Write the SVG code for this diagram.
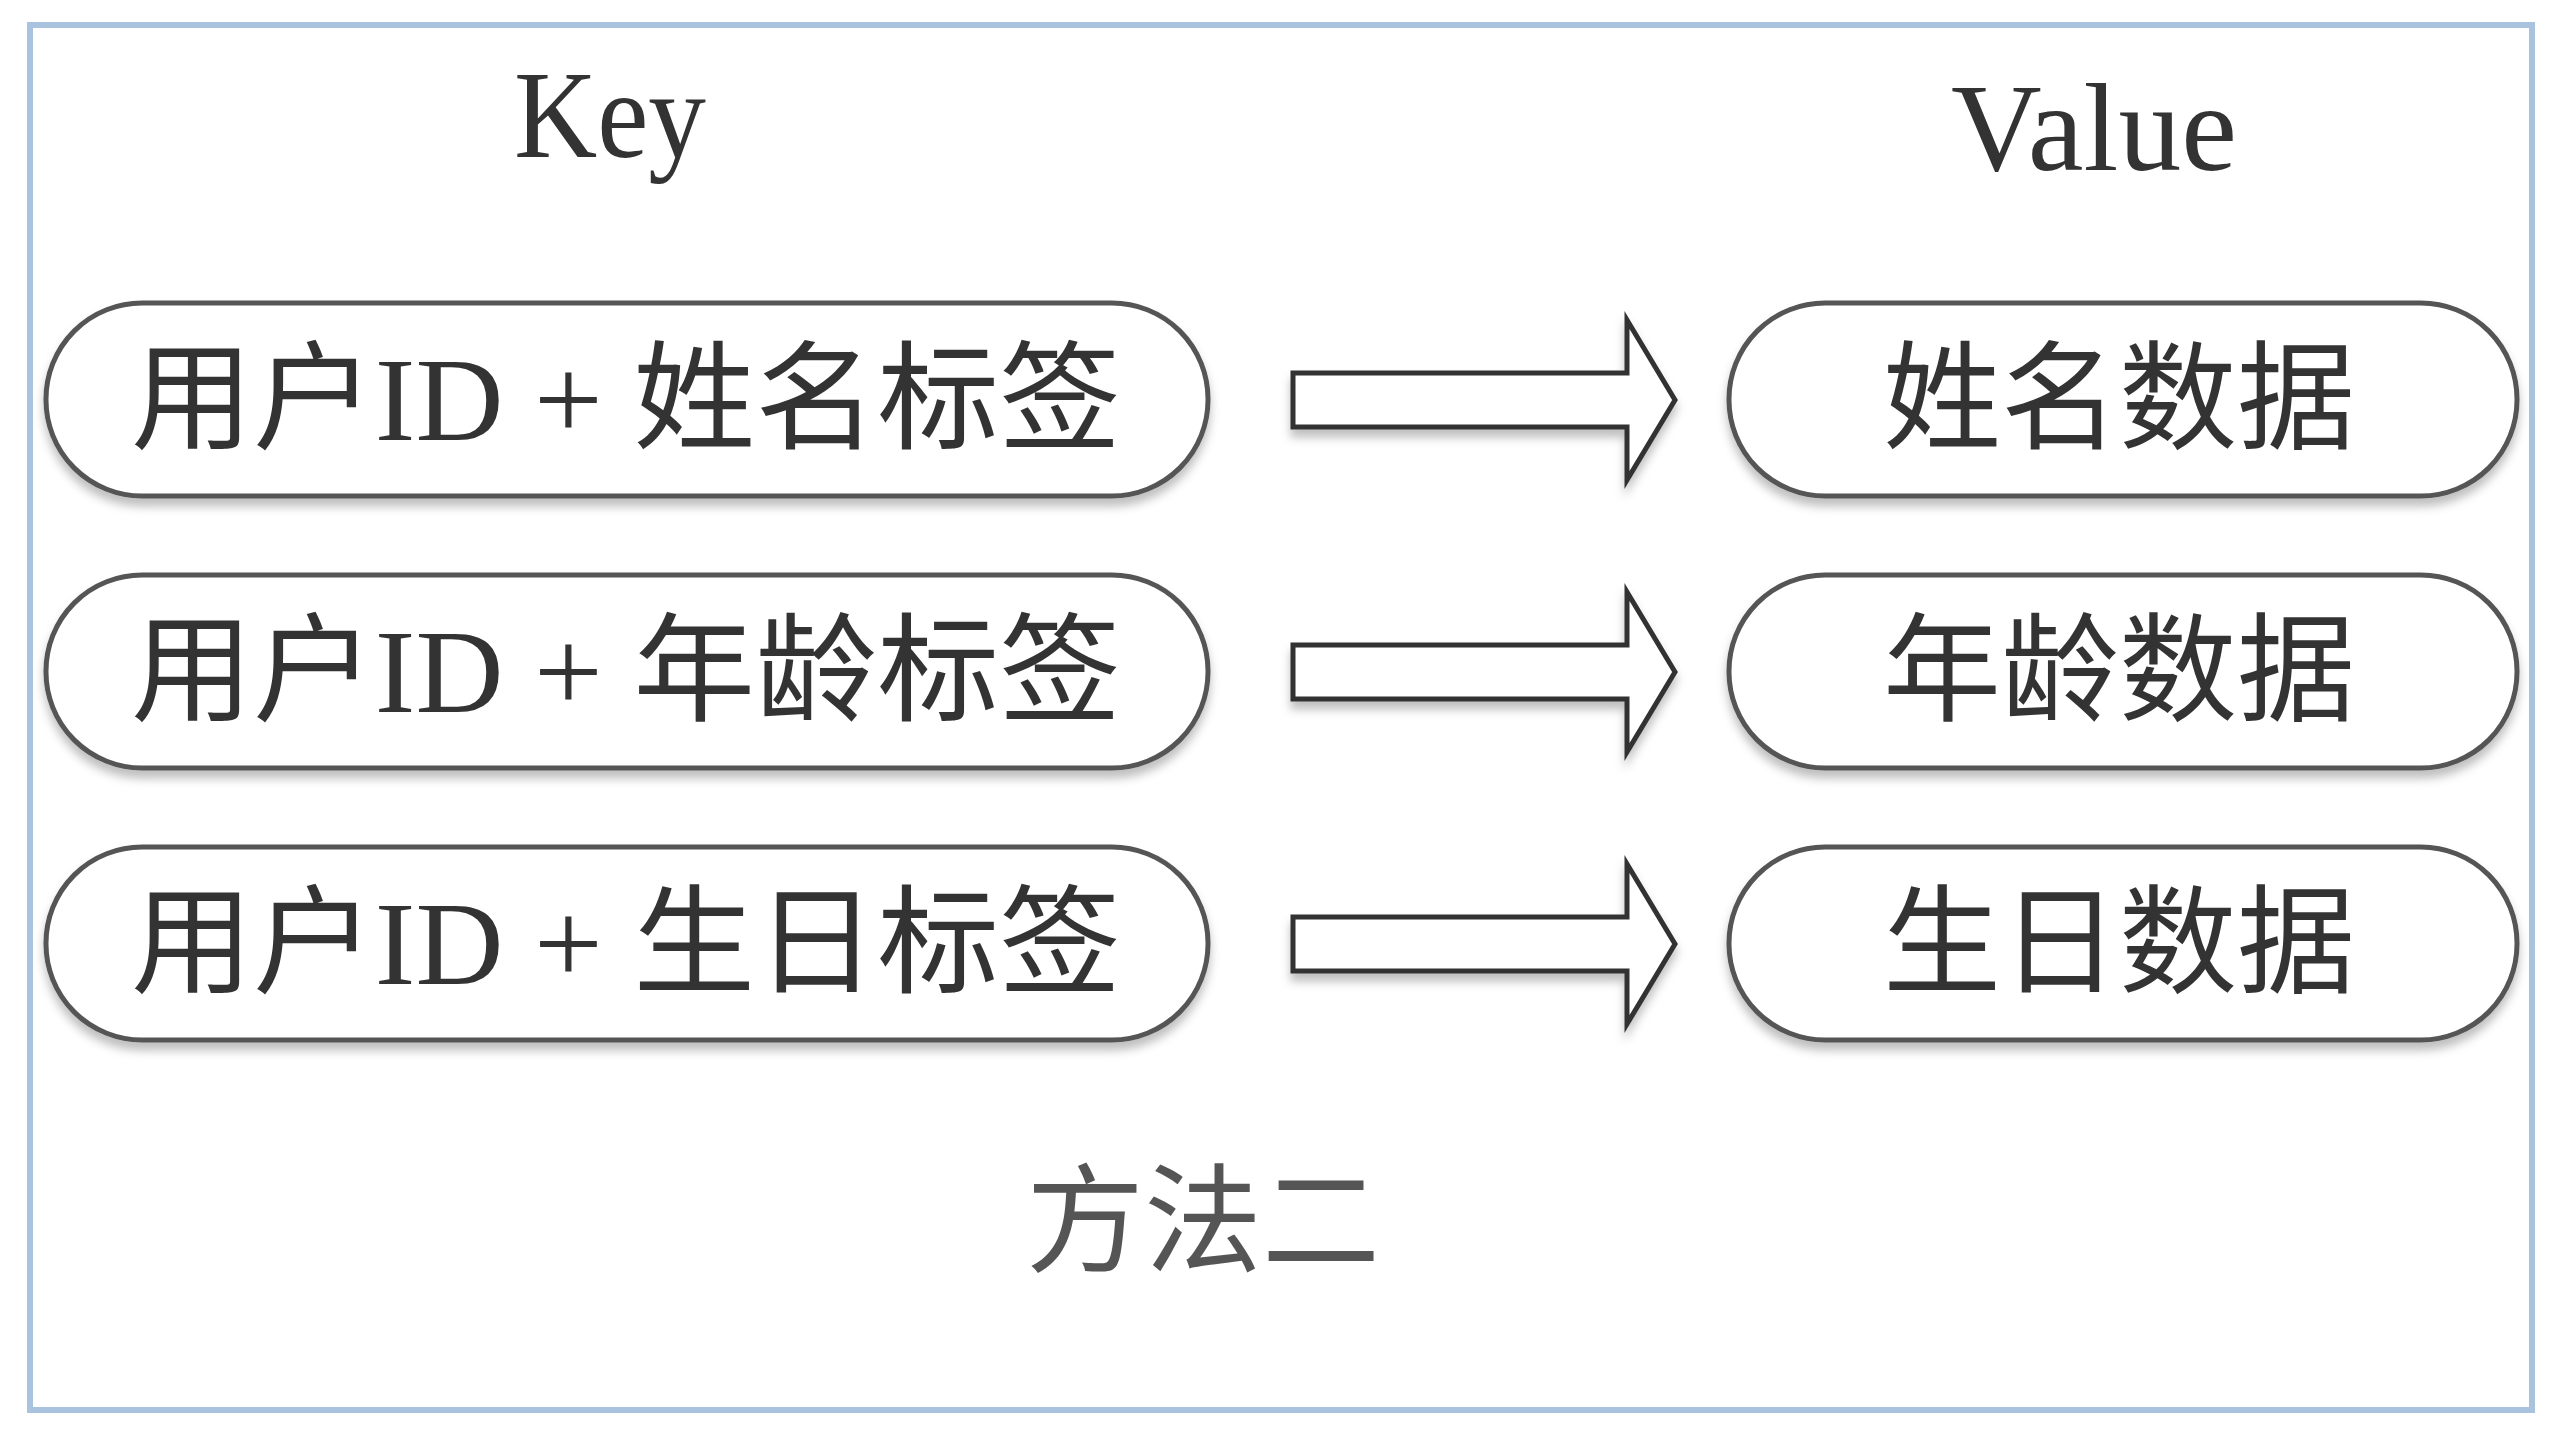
<svg xmlns="http://www.w3.org/2000/svg" width="2556" height="1440" viewBox="0 0 2556 1440">
<defs>
<filter id="sh" x="-5%" y="-20%" width="110%" height="150%">
<feDropShadow dx="0" dy="8" stdDeviation="5" flood-color="#000" flood-opacity="0.25"/>
</filter>
<style>
.frame{fill:#ffffff;stroke:#a9c3df;stroke-width:6}
.pill{fill:#ffffff;stroke:#555555;stroke-width:5;filter:url(#sh)}
.arrow{fill:#ffffff;stroke:#333333;stroke-width:5;stroke-linejoin:miter;filter:url(#sh)}
.hdr{font-family:"Liberation Serif","Times New Roman",serif;font-size:124px;fill:#333333;text-anchor:middle}
.lbl{font-family:"Liberation Serif","Noto Sans CJK SC",serif;font-size:118px;fill:#333333;text-anchor:middle}
.cap{font-family:"Noto Sans CJK SC",sans-serif;font-size:118px;fill:#555555;text-anchor:middle}
</style>
</defs>
<rect x="0" y="0" width="2556" height="1440" fill="#ffffff"/>
<rect class="frame" x="30" y="25" width="2502" height="1385"/>

<text class="hdr" x="610" y="157" textLength="192" lengthAdjust="spacingAndGlyphs">Key</text>
<text class="hdr" x="2094" y="170" textLength="286" lengthAdjust="spacingAndGlyphs">Value</text>

<g id="k1"><rect class="pill" x="46" y="303" width="1162" height="193" rx="96" ry="96"/><text class="lbl" x="626" y="440" textLength="990" lengthAdjust="spacingAndGlyphs">用户ID + 姓名标签</text></g>
<g id="k2"><rect class="pill" x="46" y="575" width="1162" height="193" rx="96" ry="96"/><text class="lbl" x="626" y="712" textLength="990" lengthAdjust="spacingAndGlyphs">用户ID + 年龄标签</text></g>
<g id="k3"><rect class="pill" x="46" y="847" width="1162" height="193" rx="96" ry="96"/><text class="lbl" x="626" y="984" textLength="990" lengthAdjust="spacingAndGlyphs">用户ID + 生日标签</text></g>

<g id="v1"><rect class="pill" x="1729" y="303" width="788" height="193" rx="96" ry="96"/><text class="lbl" x="2119" y="440">姓名数据</text></g>
<g id="v2"><rect class="pill" x="1729" y="575" width="788" height="193" rx="96" ry="96"/><text class="lbl" x="2119" y="712">年龄数据</text></g>
<g id="v3"><rect class="pill" x="1729" y="847" width="788" height="193" rx="96" ry="96"/><text class="lbl" x="2119" y="984">生日数据</text></g>

<g id="connectors">
<path class="arrow" d="M1293,373 H1627 V320 L1675,400 L1627,480 V427 H1293 Z"/>
<path class="arrow" d="M1293,645 H1627 V592 L1675,672 L1627,752 V699 H1293 Z"/>
<path class="arrow" d="M1293,917 H1627 V864 L1675,944 L1627,1024 V971 H1293 Z"/>
</g>

<text class="cap" x="1203" y="1263">方法二</text>
</svg>
